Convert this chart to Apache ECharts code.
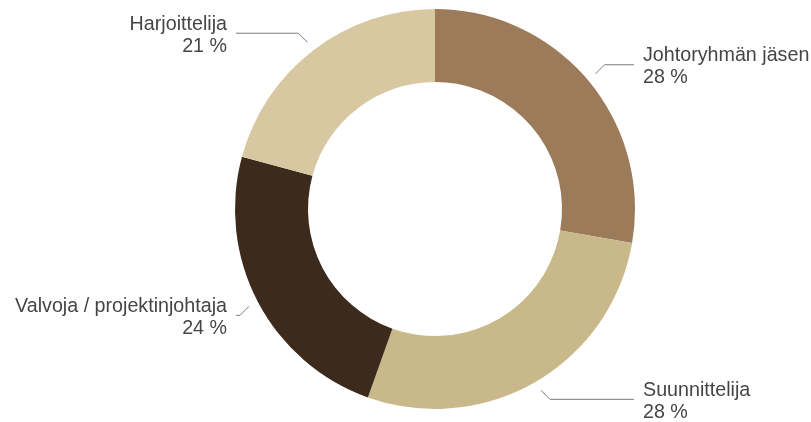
<!DOCTYPE html>
<html>
<head>
<meta charset="utf-8">
<title>Roolit</title>
<script src="https://cdn.jsdelivr.net/npm/echarts@6/dist/echarts.min.js"></script>
<style>
  html, body { margin: 0; padding: 0; background: #ffffff; }
  #chart { width: 811px; height: 422px; }
</style>
</head>
<body>
<div id="chart"></div>
<script>
// Role shares (percent)
const categories = ['Johtoryhmän jäsen', 'Suunnittelija', 'Valvoja / projektinjohtaja', 'Harjoittelija'];
const shares = [28, 28, 24, 21];
const sliceColors = ['#9c7b5b', '#c8b88a', '#3c2a1c', '#d8c8a2'];

// Ring geometry
const CX = 435, CY = 209;
const R_INNER = 127, R_OUTER = 200;
// Leader lines: gap off the ring, 45° elbow size, horizontal end reach from centre, text gap
const LINE_GAP = 10;
const ELBOW = 9;
const LINE_REACH = 199;
const TEXT_GAP = 9;

const chart = echarts.init(document.getElementById('chart'), null, { renderer: 'canvas' });

chart.setOption({
  animation: false,
  backgroundColor: '#ffffff',
  series: [{
    type: 'pie',
    center: [CX, CY],
    radius: [R_INNER, R_OUTER],
    startAngle: 90,
    clockwise: true,
    avoidLabelOverlap: false,
    emphasis: { disabled: true },
    itemStyle: { borderWidth: 0 },
    data: categories.map((name, i) => ({
      name: name,
      value: shares[i],
      itemStyle: { color: sliceColors[i] }
    })),
    label: {
      show: true,
      position: 'outside',
      formatter: '{b}\n{c} %',
      color: '#454545',
      fontFamily: 'Liberation Sans, Arial, sans-serif',
      fontSize: 19.7,
      lineHeight: 22
    },
    labelLine: {
      show: true,
      length: 22,
      length2: 10,
      lineStyle: { color: '#7a7a7a', width: 1 }
    },
    labelLayout: function (p) {
      const pts = p.labelLinePoints.map(q => q.slice());
      const dx = pts[1][0] - pts[0][0];
      const dy = pts[1][1] - pts[0][1];
      const len = Math.hypot(dx, dy) || 1;
      // start a little off the ring, then a short 45° elbow, then horizontal
      const start = [pts[0][0] + dx / len * LINE_GAP, pts[0][1] + dy / len * LINE_GAP];
      const elbow = [start[0] + Math.sign(dx) * ELBOW, start[1] + Math.sign(dy) * ELBOW];
      const right = dx >= 0;
      const endX = CX + (right ? LINE_REACH : -LINE_REACH);
      const points = [start, elbow, [endX, elbow[1]]];
      return {
        x: endX + (right ? TEXT_GAP : -TEXT_GAP),
        y: elbow[1] + 2,
        align: right ? 'left' : 'right',
        verticalAlign: 'middle',
        labelLinePoints: points
      };
    }
  }]
});
</script>
</body>
</html>
